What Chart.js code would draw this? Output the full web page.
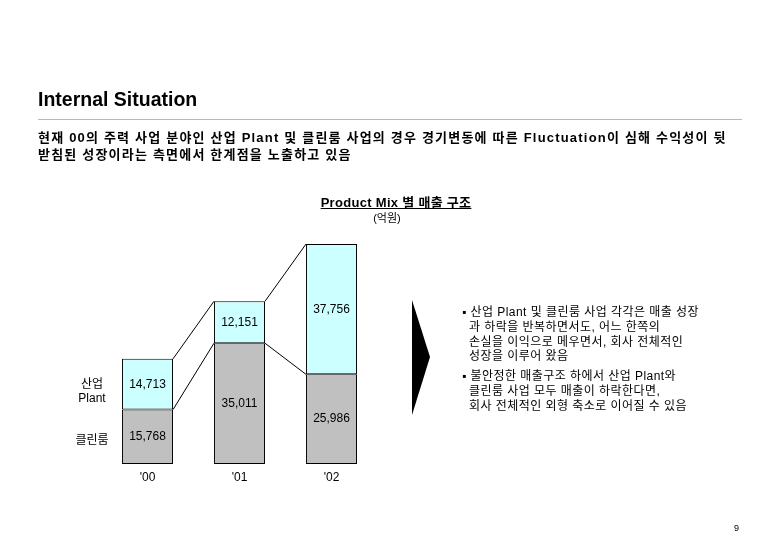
<!DOCTYPE html>
<html>
<head>
<meta charset="utf-8">
<script src="https://cdn.jsdelivr.net/npm/chart.js@4"></script>
<style>
  body { margin: 0; background: #fff; }
  #page { position: relative; width: 780px; height: 540px; overflow: hidden;
    font-family: "Liberation Sans", Arial, "Noto Sans CJK KR", sans-serif; color: #000; }
  #page canvas { position: absolute; left: 0; top: 0; }
  .t { position: absolute; white-space: nowrap; }
  #title { left: 38px; top: 88px; font-size: 19.5px; font-weight: bold; }
  #rule { position: absolute; left: 38px; top: 119px; width: 704px; height: 1px; background: #c2b99c; }
  #sub { left: 38px; top: 129px; font-size: 13px; font-weight: bold; line-height: 17px; letter-spacing: 1.2px; }
  #ctitle { left: 396px; top: 192px; transform: translateX(-50%); font-size: 13px; font-weight: bold; text-decoration: underline; letter-spacing: 0.3px; }
  #unit { left: 387px; top: 209px; transform: translateX(-50%); font-size: 11px; }
  #notes { position: absolute; left: 462px; top: 305px; width: 300px; font-size: 12px; line-height: 14.8px; letter-spacing: 0.45px; }
  #notes p { margin: 0 0 5px 0; padding-left: 7px; text-indent: -7px; white-space: nowrap; }
  #pg { left: 734px; top: 523px; font-size: 9px; }
  #arrow { position: absolute; left: 0; top: 0; }
</style>
</head>
<body>
<div id="page">
  <canvas id="mixChart" width="780" height="540"></canvas>
  <div class="t" id="title">Internal Situation</div>
  <div id="rule"></div>
  <div class="t" id="sub">현재 00의 주력 사업 분야인 산업 Plant 및 클린룸 사업의 경우 경기변동에 따른 Fluctuation이 심해 수익성이 뒷<br>받침된 성장이라는 측면에서 한계점을 노출하고 있음</div>
  <div class="t" id="ctitle">Product Mix 별 매출 구조</div>
  <div class="t" id="unit">(억원)</div>
  <svg id="arrow" width="780" height="540"><polygon points="412,300 430,357 412,415" fill="#000"/></svg>
  <div id="notes">
    <p>▪ 산업 Plant 및 클린룸 사업 각각은 매출 성장<br>과 하락을 반복하면서도, 어느 한쪽의<br>손실을 이익으로 메우면서, 회사 전체적인<br>성장을 이루어 왔음</p>
    <p>▪ 불안정한 매출구조 하에서 산업 Plant와<br>클린룸 사업 모두 매출이 하락한다면,<br>회사 전체적인 외형 축소로 이어질 수 있음</p>
  </div>
  <div class="t" id="pg">9</div>
</div>
<script>
const years = ["'00", "'01", "'02"];
const cleanroom = [15768, 35011, 25986];
const plant = [14713, 12151, 37756];
const seriesNames = ['클린룸', '산업 Plant'];

// lines between bars + value labels + left-side series names
const mixPlugin = {
    id: 'mix',
    afterDatasetsDraw(chart) {
        const ctx = chart.ctx;
        const low = chart.getDatasetMeta(0).data;
        const high = chart.getDatasetMeta(1).data;
        ctx.save();
        ctx.strokeStyle = '#000';
        ctx.lineWidth = 1;
        for (let i = 0; i < low.length - 1; i++) {
            const r = low[i].x + low[i].width / 2;
            const l = low[i + 1].x - low[i + 1].width / 2;
            ctx.beginPath();
            ctx.moveTo(r, high[i].y);
            ctx.lineTo(l, high[i + 1].y);
            ctx.moveTo(r, low[i].y);
            ctx.lineTo(l, low[i + 1].y);
            ctx.stroke();
        }
        ctx.fillStyle = '#000';
        ctx.textAlign = 'center';
        ctx.textBaseline = 'middle';
        ctx.font = '12px "Liberation Sans", Arial';
        chart.data.datasets.forEach((ds, d) => {
            chart.getDatasetMeta(d).data.forEach((bar, i) => {
                ctx.fillText(ds.data[i].toLocaleString('en-US'), bar.x, (bar.y + bar.base) / 2);
            });
        });
        // names next to first bar
        ctx.font = '12px "Liberation Sans", "Noto Sans CJK KR"';
        const lx = low[0].x - low[0].width / 2 - 30;
        const lowMid = (low[0].y + low[0].base) / 2;
        const highMid = (high[0].y + high[0].base) / 2;
        ctx.fillText(seriesNames[0], lx, lowMid + 4);
        ctx.fillText('산업', lx, highMid);
        ctx.fillText('Plant', lx, highMid + 14);
        ctx.restore();
    }
};

const mix = document.getElementById('mixChart').getContext('2d');
const mixChart = new Chart(mix, {
    type: 'bar',
    data: {
        labels: years,
        datasets: [{
            label: seriesNames[0],
            data: cleanroom,
            backgroundColor: '#c0c0c0',
            borderColor: '#000',
            borderWidth: 1,
            borderSkipped: false
        }, {
            label: seriesNames[1],
            data: plant,
            backgroundColor: '#ccffff',
            borderColor: '#000',
            borderWidth: 1,
            borderSkipped: false
        }]
    },
    options: {
        responsive: false,
        animation: false,
        events: [],
        layout: {
            padding: { left: 101.5, right: 402.5, top: 222.5, bottom: 49.6 }
        },
        datasets: {
            bar: { categoryPercentage: 1, barPercentage: 0.555 }
        },
        plugins: {
            legend: { display: false },
            tooltip: { enabled: false }
        },
        scales: {
            x: {
                stacked: true,
                grid: { display: false, drawTicks: false },
                border: { display: false },
                ticks: { color: '#000', padding: 6, font: { family: '"Liberation Sans", Arial', size: 12 } }
            },
            y: {
                stacked: true,
                display: false,
                min: 0,
                max: 70000
            }
        }
    },
    plugins: [mixPlugin]
});
</script>
</body>
</html>
